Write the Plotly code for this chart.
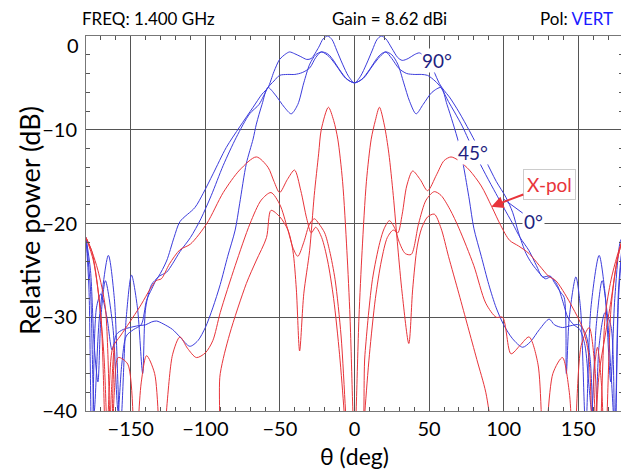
import plotly.graph_objects as go

# ---------------- data ----------------
# co-pol cut with the 0 dB peaks and the shoulder (widest)
co1_theta = [-180, -177, -174.5, -171, -165, -161, -157, -153, -149.5, -145.5, -142, -140, -136, -131.6, -126,
             -121, -117, -107, -101.5, -94.8, -86, -77, -68, -62, -58, -54, -50.2, -46, -43.5, -40, -36, -32, -29,
             -24, -21, -17.9, -15, -12, -8, -4, 0, 4, 8, 12, 15, 17.9, 21, 25, 29, 32, 36, 40, 43.5, 47, 50, 53,
             57, 60, 63.6, 70, 77, 82, 88, 95, 101.5, 106, 110, 115, 119, 124, 128, 131.6, 134, 138, 140.6, 142,
             144, 148.4, 151.5, 155, 158.5, 164, 168, 171.8, 174.5, 178.4, 180]
co1_db = [-21.5, -27, -40, -30, -23.4, -28, -42, -30, -25.5, -29, -36, -29, -26.5, -25.7, -24,
          -21.5, -19.8, -18.3, -16.8, -14.7, -11.9, -9.7, -7.6, -6.2, -5.5, -3.8, -2.5, -1.9, -1.7, -1.9, -2.2, -2.5, -2.4,
          -1.2, -0.3, 0, -0.4, -1.5, -3.0, -4.3, -5.0, -4.3, -3.0, -1.5, -0.4, 0, -0.3, -1.3, -2.3, -2.6, -2.4, -2.0, -1.8, -2.2, -2.8, -3.7,
          -5.1, -5.8, -6.5, -8.1, -10.1, -11.6, -13.3, -15.5, -17.2, -18.8, -21.0, -23.2, -24.3, -25.3, -25.9, -25.7, -26.3, -27.3, -27.9, -36,
          -30, -25.7, -29, -42, -29, -23.4, -27.5, -36.9, -28, -21.8, -21.5]

# co-pol cut with the -1.7 dB peaks (middle)
co2_theta = [-180, -177, -174.5, -172, -170, -167, -162, -158.5, -156, -153, -148, -143, -139.4, -136, -131.6, -126,
             -122, -117, -110, -103, -96, -88, -79.2, -70.3, -64, -58, -54, -50.2, -45, -40, -35, -30, -26, -22.3,
             -18, -15, -10, -5, 0, 5, 10, 15, 18, 21, 25, 30, 35, 40, 45, 49, 54, 58, 63, 67, 72.5, 80, 88, 94.8,
             100, 106, 111, 117, 122, 126, 131, 136, 140, 143, 147, 151, 154.5, 157, 159, 162, 166, 169, 172,
             174.5, 177, 180]
co2_db = [-21.5, -25, -33, -36.9, -30, -26.1, -31, -40, -35, -32, -31.3, -30.8, -28.2, -27, -25.7, -25.2,
          -24.3, -23, -21.5, -19.5, -17.0, -13.8, -10.8, -8.3, -7.3, -5.5, -4.8, -4.2, -4.1, -4.1, -3.9, -3.4, -2.3, -1.7,
          -1.9, -2.4, -3.6, -4.6, -5.0, -4.6, -3.6, -2.4, -1.9, -1.7, -2.4, -3.5, -4.0, -4.1, -4.1, -4.2, -4.8, -5.5, -7.0, -8.1, -9.7, -12.3, -14.8, -16.8,
          -18.3, -20.0, -21.5, -22.9, -24.5, -25.7, -25.6, -26.6, -28.5, -30.0, -30.8, -31.3, -33.0, -37, -40, -31, -26.1, -29, -36,
          -42, -27, -21.5]

# co-pol cut with the dips at +/-41 deg (steepest)
co3_theta = [-180, -178, -176, -173, -170, -166, -162.5, -159.5, -155, -150.6, -145, -140, -136, -132.7, -128.3,
             -122, -117, -110.4, -105, -100, -95, -90, -85, -80, -77, -72.5, -68, -65.8, -62, -58, -53, -47, -42.4,
             -38, -34, -30, -26, -22, -17, -12, -6, 0, 6, 12, 17, 21, 25, 29, 33, 37, 41.3, 46, 52, 58, 62, 66,
             70, 73, 77, 80, 85, 90, 95, 100, 106, 112.7, 118, 124, 130.5, 134, 139.4, 145, 150.6, 155, 158,
             161, 164, 168, 172, 174.5, 177, 180]
co3_db = [-21.5, -27, -45, -29, -27.5, -30, -33.5, -31.8, -31.3, -31.1, -30.9, -30.8, -30.5, -30.4, -30.7,
          -31.3, -32.1, -33.1, -32.5, -31.1, -29, -26.5, -23.5, -20.7, -17.9, -13.6, -11, -9.4, -7.3, -5.5, -6.3, -7.6, -8.3,
          -7.3, -5.0, -3.0, -2.0, -1.7, -2.2, -3.2, -4.5, -5.0, -4.5, -3.2, -2.2, -1.7, -2.0, -3.0, -5.0, -7.0, -8.3, -7.3, -6.0, -5.5, -7.3, -9.3,
          -11.5, -13.8, -17.5, -20.5, -23.5, -26.5, -29, -30.8, -32.3, -33.2, -32.6, -31.3, -30.2, -30.8, -31.1, -30.9, -30.8, -31.8, -34.5,
          -45, -33, -29.5, -31, -45, -28, -21.5]

# X-pol: highest outer lobes
xp1_theta = [-180, -175, -170, -166.5, -164.5, -162, -157, -150.6, -144, -133, -129.5, -124, -117, -110, -99, -88,
             -77, -65.8, -58, -54, -50.2, -45, -40.2, -36, -32, -29, -26, -22, -18, -14, -10, -7, -5,
             5, 7, 10, 14, 18, 22, 26, 29, 32, 35, 39, 44, 49, 55, 60, 64.7, 70, 77, 85, 92, 98, 104, 110, 117,
             124, 130, 135, 141, 146, 152.8, 157, 160, 164, 168, 172, 176, 180]
xp1_db = [-21.5, -24, -30, -45, -38, -33.2, -32, -30.5, -28.9, -26.1, -25.9, -24.3, -22.8, -22.2, -20.0, -16.7,
          -14.3, -12.9, -14.0, -15.5, -16.7, -15.3, -14.3, -16.5, -19.5, -21.0, -20.4, -21.5, -24, -28, -34, -40, -45,
          -45, -40, -34, -28, -24, -21.5, -20.7, -21.0, -19.0, -16.0, -14.4, -15.3, -16.5, -14.8, -13.3, -12.9, -13.3, -14.3, -16.0, -18.2, -20.2, -21.8, -22.4, -23.2,
          -24.5, -25.6, -26.1, -27.5, -28.9, -31.1, -34, -45, -36, -32, -28.2, -24, -21.5]

# X-pol: middle
xp2_theta = [-180, -176, -172, -167, -163, -161, -158.4, -152, -147, -143, -139.4, -134, -129.4, -122, -117, -112,
             -106, -100, -95, -90, -80, -70, -62.5, -56, -50, -45, -41, -38, -34, -30, -26.8, -24, -20, -16.7,
             -13, -9, -6, -4, 3, 7, 12, 17, 20, 23.4, 27, 30, 34, 38, 43, 48, 53.5, 58, 64, 70, 80, 88, 95, 99.3,
             104.9, 111, 117, 123, 127, 133, 139.4, 144, 147, 152, 157.3, 161, 164, 168, 172, 176, 180]
xp2_db = [-21.5, -23, -25, -29, -45, -38, -34.3, -35, -45, -37, -34.1, -36, -45, -34, -32.1, -33.3,
          -34.3, -33.8, -32.5, -29.5, -24.5, -20, -17.5, -16.7, -18, -20.5, -22.7, -23.5, -22, -20, -19.5, -20, -21, -22.9,
          -26, -32, -40, -45, -45, -34, -26, -22, -20.5, -19.7, -20.5, -22, -23.2, -23.3, -20, -17.5, -16.6, -17, -18.5, -20.5, -24.5, -28.5, -30.0, -30,
          -33.9, -33.0, -32.1, -35, -45, -36, -34.3, -38, -45, -33, -31.1, -35, -45, -30, -26, -23.5, -21.5]

# X-pol: lowest outer lobes, tallest central lobes
xp3_theta = [-180, -176, -172, -168, -165, -163, -161, -158, -130, -94.8, -90, -83.7, -72.5, -66, -59, -56, -50,
             -44.6, -41.3, -39, -36.8, -34, -30.1, -27, -24, -22.3, -17.5, -14, -11.2, -8, -5.1, -3, -1.1, 0,
             1.1, 3, 5.1, 8, 11.2, 14, 16.7, 20, 23, 26, 29, 32, 36.4, 39, 42, 45, 49, 53.5, 58, 63, 70, 76, 82,
             88, 92, 95, 130, 158, 160.5, 162.9, 165.5, 168, 172, 176, 180]
xp3_db = [-21.5, -23, -27, -34, -45, -38, -33.2, -45, -45, -45, -36, -31.8, -26.4, -24, -21.5, -18.6, -19.3,
          -20.7, -22.9, -27, -33.6, -27.5, -22.9, -17, -12.5, -10, -7.6, -9, -11, -15.5, -22.9, -30, -40, -45,
          -40, -30, -22.9, -15.5, -11, -9, -7.6, -9.5, -12.5, -17, -22.5, -27.5, -32.8, -27, -22.5, -20.5, -19.3, -19.0, -20.5, -23.5, -27.5, -31, -34.5,
          -38, -42, -45, -45, -45, -36, -33.2, -37, -45, -29, -24, -21.5]

x_ticks = [-150, -100, -50, 0, 50, 100, 150]
y_ticks = [-40, -30, -20, -10, 0]
y_ticktext = ["\u221240", "\u221230", "\u221220", "\u221210", ""]
x_ticktext = ["\u2212150", "\u2212100", "\u221250", "0", "50", "100", "150"]

BLUE = "#3c3cdc"
RED = "#e8343a"
NAVY = "#1f1f80"
FONT = "Lato"

fig = go.Figure()
for th, db in [(co1_theta, co1_db), (co2_theta, co2_db), (co3_theta, co3_db)]:
    fig.add_trace(go.Scatter(x=th, y=db, mode="lines", line=dict(color=BLUE, width=1, shape="spline", smoothing=0.8),
                             showlegend=False, hoverinfo="skip"))
for th, db in [(xp1_theta, xp1_db), (xp2_theta, xp2_db), (xp3_theta, xp3_db)]:
    fig.add_trace(go.Scatter(x=th, y=db, mode="lines", line=dict(color=RED, width=1, shape="spline", smoothing=0.8),
                             showlegend=False, hoverinfo="skip"))

axis_common = dict(showgrid=True, gridcolor="#555555", gridwidth=1, zeroline=False, automargin=False,
                   showline=True, linecolor="#777777", linewidth=1, mirror="ticks",
                   ticks="inside", ticklen=5, tickcolor="#555555",
                   tickfont=dict(family=FONT, size=20, color="black"))

fig.update_xaxes(range=[-180, 180], tickvals=x_ticks, ticktext=x_ticktext,
                 minor=dict(dtick=10, ticks="inside", ticklen=4, tickcolor="#555555", showgrid=False),
                 ticklabelstandoff=0, **axis_common)
fig.update_yaxes(range=[-40, 0], tickvals=y_ticks, ticktext=y_ticktext,
                 minor=dict(dtick=2, ticks="inside", ticklen=4, tickcolor="#555555", showgrid=False),
                 ticklabelstandoff=4, **axis_common)

ann = []
ann.append(dict(x=0, y=0, xref="paper", yref="y", text="0", showarrow=False, xanchor="right", yanchor="middle",
                xshift=-5, yshift=-9, font=dict(family=FONT, size=20, color="black")))
# axis titles
ann.append(dict(x=0.5, y=-0.12, xref="paper", yref="paper", text="\u03b8 (deg)", showarrow=False,
                xanchor="center", yanchor="middle", font=dict(family=FONT, size=23, color="black")))
ann.append(dict(x=-0.104, y=0.507, xref="paper", yref="paper", text="Relative power (dB)", showarrow=False,
                textangle=-90, xanchor="center", yanchor="middle", font=dict(family=FONT, size=27, color="black")))
# header
ann.append(dict(x=-0.011, y=1.047, xref="paper", yref="paper", text="FREQ: 1.400 GHz", showarrow=False,
                xanchor="left", yanchor="middle", font=dict(family=FONT, size=17, color="black")))
ann.append(dict(x=0.454, y=1.047, xref="paper", yref="paper", text="Gain = 8.62 dBi", showarrow=False,
                xanchor="left", yanchor="middle", font=dict(family=FONT, size=17, color="black")))
ann.append(dict(x=0.985, y=1.047, xref="paper", yref="paper",
                text="Pol: <span style='color:#1a1aff'>VERT</span>", showarrow=False,
                xanchor="right", yanchor="middle", font=dict(family=FONT, size=17, color="black")))
# cut labels
ann.append(dict(x=55.6, y=-2.6, text="90\u00b0", showarrow=False, bgcolor="white", borderpad=0,
                font=dict(family=FONT, size=19, color=NAVY)))
ann.append(dict(x=79.7, y=-12.4, text="45\u00b0", showarrow=False, bgcolor="white", borderpad=0,
                font=dict(family=FONT, size=19, color=NAVY)))
ann.append(dict(x=100, y=-17.4, ax=30, ay=22, text="0\u00b0", showarrow=True, arrowhead=0, arrowwidth=1,
                arrowcolor=BLUE, bgcolor="white", borderpad=1, font=dict(family=FONT, size=19, color=NAVY)))
ann.append(dict(x=91.7, y=-18.2, ax=58, ay=-22, text="X-pol", showarrow=True, arrowhead=2, arrowsize=1.2,
                arrowwidth=2, arrowcolor=RED, bgcolor="white", bordercolor="#cccccc", borderwidth=1, borderpad=3,
                font=dict(family=FONT, size=19, color=RED)))

# the page adds an 8 px body margin, so the figure is 8 px smaller and the margins are shifted by 8 px
fig.update_layout(width=621, height=464, margin=dict(l=78, r=6, t=28, b=61),
                  paper_bgcolor="white", plot_bgcolor="white", annotations=ann,
                  font=dict(family=FONT))

fig.write_html("out.html")
